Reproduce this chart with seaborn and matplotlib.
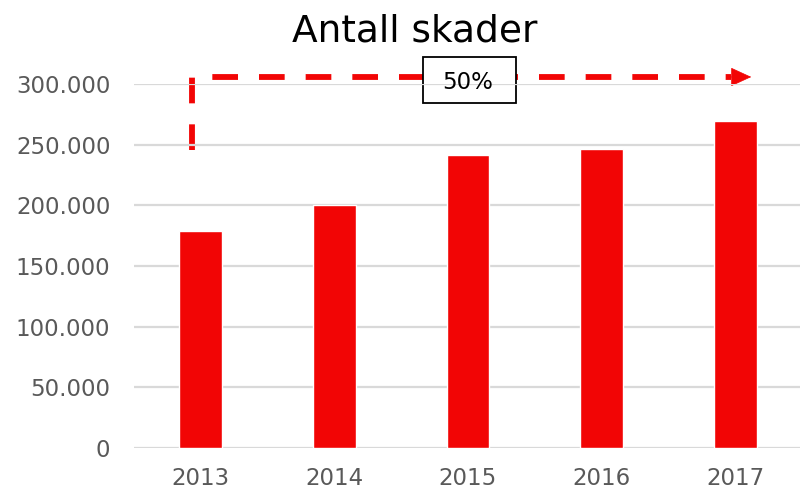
import numpy as np
import matplotlib
matplotlib.use("Agg")
import matplotlib.pyplot as plt
import matplotlib.patches as patches
import pandas as pd
import seaborn as sns

# data
years = ["2013", "2014", "2015", "2016", "2017"]
skader = [179000, 200000, 241500, 246500, 269500]
yticks = [0, 50000, 100000, 150000, 200000, 250000, 300000]
ytick_labels = ["0", "50.000", "100.000", "150.000", "200.000", "250.000", "300.000"]
growth_label = "50%"

RED = "#f20505"
GREY_TXT = "#595959"
GRID = "#d9d9d9"

df = pd.DataFrame({"year": years, "skader": skader})

sns.set_style("white")
plt.rcParams["font.family"] = ["DejaVu Sans"]

fig = plt.figure(figsize=(8, 4.92), dpi=100)
ax = fig.add_axes([0.1675, 1 - 448 / 492, 0.835, (448 - 84) / 492])

sns.barplot(data=df, x="year", y="skader", color=RED, saturation=1,
            width=0.32, ax=ax, zorder=3)

ax.set_xlim(-0.5, 4.5)
ax.set_ylim(0, 300000)
ax.set_yticks(yticks)
ax.set_yticklabels(ytick_labels)
ax.set_axisbelow(False)  # grid at 2.5: above the label box, below the bars
ax.yaxis.grid(True, color=GRID, lw=1.6)
ax.set_xlabel("")
ax.set_ylabel("")
for s in ax.spines.values():
    s.set_visible(False)
ax.tick_params(axis="y", length=0, pad=17, labelsize=16.5, labelcolor=GREY_TXT)
ax.tick_params(axis="x", length=0, pad=14, labelsize=16.5, labelcolor=GREY_TXT)

# dashed growth arrow from 2013 to 2017
arrow_y = 305800
ax.plot([-0.067, -0.067, 3.97], [246000, arrow_y, arrow_y], color=RED,
        lw=4.2, ls=(0, (4.4, 3.6)), solid_capstyle="butt",
        dash_capstyle="butt", clip_on=False, zorder=2.2)
ax.annotate("", xy=(4.12, arrow_y), xytext=(3.96, arrow_y),
            arrowprops=dict(arrowstyle="-|>,head_length=13.5,head_width=6.2",
                            mutation_scale=1, fc=RED, ec=RED, lw=0.5,
                            shrinkA=0, shrinkB=0),
            annotation_clip=False, zorder=2.2)

# label box with the growth figure
ax.add_patch(patches.Rectangle((1.662, 284300), 0.696, 38000, fc="white",
                               ec="black", lw=1.3, clip_on=False, zorder=2.4))
ax.text(2, 295900, growth_label, ha="center", va="baseline", fontsize=16.5,
        color="black", zorder=4)

fig.text(415 / 800, 1 - 32 / 492, "Antall skader", ha="center", va="center",
         fontsize=27, color="black")

fig.savefig("out.png", dpi=100)
